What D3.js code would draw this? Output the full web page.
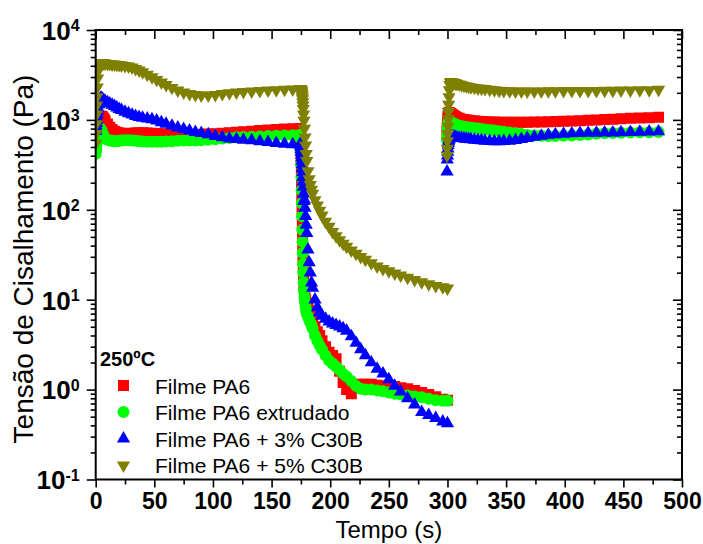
<!DOCTYPE html>
<html>
<head>
<meta charset="utf-8">
<script src="https://cdn.jsdelivr.net/npm/d3@7"></script>
<style>
  html, body { margin: 0; padding: 0; background: #fff; }
  text { font-family: "Liberation Sans", Arial, sans-serif; }
</style>
</head>
<body>
<svg id="chart" width="703" height="544"></svg>
<script>
// ---------------- data ----------------
// time stamps (s) of each test stage
const tSeg1 = [0,0.2,0.4,0.6,0.8,1, 1.3,1.6,2,2.5,3, 4,5,6,7,8, 10,12,14,16,18,20,22, 25,28,31,34,37,40, 44,48,52,56,60, 65,70,75,80,85,90, 96,102,108,114,120,126, 133,140,147,154,161,168,174];
const tSeg2 = [174.6,174.8,175,175.2,175.4,175.6,175.8, 176,176.2,176.4,176.6,176.8, 177,177.3,177.6, 178,178.5,179,179.5, 180,181,182,183,184,185, 187,189,191,193, 196,199,202,205,208,211,214, 218,222,226,230, 235,240,245,250,255,260, 266,272,278,284,290,296, 300];
const tSeg3 = [299.6,299.8,300,300.2,300.4,300.6,300.8, 301,301.3,301.6, 302,302.5,303, 304,305,306,307,308, 310,312,314,316,318,320, 323,326,329,332, 336,340,344,348, 353,358,363,368, 374,380,386,392, 399,406,413,420, 427,434,441,448, 456,464,472,480];

// Filme PA6 (Pa)
const pa6Seg1 = [500,560,630,700,780,850, 920,980,1030,1070,1090, 1100,1100,1080,1030,980, 900,830,780,750,730,715,710, 705,705,710,715,720,720, 715,710,705,700,695, 690,690,690,690,690,690, 695,700,710,720,730,740, 750,760,770,780,790,795,800];
const pa6Seg2 = [780,650,500,380,280,200,140, 100,70,50,37,28, 22,17,14, 12,10.5,9.8,9.2, 8.8,8.2,7.5,6.8,6.2,5.8, 5.0,4.4,4.0,3.5, 3.0,2.6,2.4,2.2,1.6,1.2,1.0, 0.9,1.05,1.15,1.15, 1.15,1.12,1.1,1.1,1.08,1.05, 1.02,0.98,0.93,0.88,0.83,0.78, 0.76];
const pa6Seg3 = [750,820,900,980,1050,1100,1150, 1180,1200,1200, 1190,1180,1170, 1150,1120,1100,1080,1060, 1040,1020,1010,1000,990,985, 975,965,960,955, 950,945,940,940, 940,940,940,940, 945,950,955,960, 965,970,980,990, 1000,1010,1020,1030, 1040,1050,1060,1070];

// Filme PA6 extrudado (Pa)
const extSeg1 = [420,450,480,520,560,600, 650,700,740,770,790, 800,760,700,650,620, 600,590,585,580,580,585,590, 595,595,590,585,580,575, 570,570,570,570,575, 580,585,590,590,590,595, 600,610,620,630,640,645, 650,655,660,665,670,675,680];
const extSeg2 = [680,560,430,320,230,165,118, 85,60,44,33,25, 20,15.5,12.5, 10.5,9.2,8.3,7.6, 7.0,6.5,6.0,5.6,5.2,4.8, 4.0,3.5,3.1,2.8, 2.4,2.1,1.95,1.8,1.65,1.5,1.4, 1.25,1.1,1.02,1.0, 1.0,0.98,0.96,0.93,0.9,0.88, 0.86,0.84,0.82,0.79,0.76,0.75, 0.75];
const extSeg3 = [600,660,720,780,840,890,930, 950,960,960, 950,945,940, 930,910,900,890,880, 860,850,840,830,825,820, 810,800,790,780, 770,760,750,740, 725,710,695,680, 670,665,660,660, 665,670,680,690, 700,710,715,720, 725,730,730,735];

// Filme PA6 + 3% C30B (Pa)
const c3Seg1 = [750,800,860,920,990,1060, 1150,1250,1350,1480,1600, 1750,1750,1700,1650,1620, 1570,1520,1470,1420,1370,1320,1280, 1230,1180,1140,1100,1070,1050, 1030,1010,980,940,900, 860,820,790,760,730,710, 690,660,640,620,610,600, 590,575,565,550,540,535,530];
const c3Seg2 = [530,500,470,440,410,380,350, 320,290,260,230,205, 180,150,125, 130,105,85,68, 55,36,26,20,15.5,13.5, 10,8.2,7.2,6.6, 6.1,5.7,5.4,5.2,5.0,4.8,4.5, 3.9,3.3,2.8,2.4, 2.0,1.7,1.5,1.3,1.1,0.95, 0.8,0.68,0.56,0.52,0.48,0.44, 0.42];
const c3Seg3 = [265,360,400,440,480,520,550, 575,600,620, 635,645,650, 650,650,645,640,635, 630,625,620,615,610,605, 600,595,590,585, 580,578,578,580, 585,595,610,625, 645,665,680,690, 700,705,710,715, 718,720,722,725, 730,735,738,742];

// Filme PA6 + 5% C30B (Pa)
const c5Seg1 = [550,700,900,1150,1450,1800, 2300,2900,3500,3950,4200, 4300,4300,4300,4250,4250, 4200,4200,4150,4150,4100,4100,4050, 4000,3950,3850,3700,3550,3400, 3200,3000,2800,2620,2450, 2280,2130,2030,1950,1900,1880, 1880,1900,1950,1990,2020,2050, 2080,2100,2130,2150,2170,2190,2200];
const c5Seg2 = [2200,2200,2180,2150,2100,2050,1980, 1900,1800,1700,1580,1450, 1330,1150,980, 800,640,520,420, 350,270,220,190,168,152, 128,112,98,87, 74,65,57,51,46,42,39, 35.5,32.5,30,28, 25.5,23.5,22,20.8,19.7,18.7, 17.6,16.6,15.7,14.9,14.3,13.8, 13.4];
const c5Seg3 = [400,480,580,700,850,1020,1230, 1480,1800,2150, 2450,2600,2650, 2620,2600,2580,2550,2520, 2480,2440,2400,2370,2340,2310, 2280,2250,2230,2210, 2170,2140,2120,2100, 2090,2080,2080,2080, 2080,2080,2090,2090, 2100,2100,2110,2110, 2110,2120,2120,2130, 2130,2140,2150,2170];

const seriesNames = ["Filme PA6", "Filme PA6 extrudado", "Filme PA6 + 3% C30B", "Filme PA6 + 5% C30B"];
const seriesColors = ["#ff0000", "#00ff00", "#0000ff", "#808000"];
const xTicks = [0,50,100,150,200,250,300,350,400,450,500];
const xMinorTicks = [25,75,125,175,225,275,325,375,425,475];
const yTickExps = [-1,0,1,2,3,4];
const tempLabel = "250ºC";
const xTitle = "Tempo (s)";
const yTitle = "Tensão de Cisalhamento (Pa)";

// ---------------- build ----------------
const FONT = "'Liberation Sans', Arial, sans-serif";
const times = tSeg1.concat(tSeg2, tSeg3);
const seriesValues = [
  pa6Seg1.concat(pa6Seg2, pa6Seg3),
  extSeg1.concat(extSeg2, extSeg3),
  c3Seg1.concat(c3Seg2, c3Seg3),
  c5Seg1.concat(c5Seg2, c5Seg3)
];
const series = seriesNames.map((name, i) => ({
  name, color: seriesColors[i], idx: i,
  points: times.map((t, j) => ({ t, v: seriesValues[i][j] })).filter(d => d.v != null)
}));

const svg = d3.select("#chart");
const L = 95.7, R = 682, T = 30, B = 479.5;
const x = d3.scaleLinear().domain([0, 500]).range([L, R]);
const y = d3.scaleLog().domain([0.1, 10000]).range([B, T]);

const symbolGen = [
  d3.symbol().type(d3.symbolSquare).size(121),
  d3.symbol().type(d3.symbolCircle).size(113),
  d3.symbol().type(d3.symbolTriangle).size(76),
  d3.symbol().type(d3.symbolTriangle).size(76)
];
const rot = [0, 0, 0, 180];

svg.append("clipPath").attr("id", "plotclip")
  .append("rect").attr("x", L).attr("y", T).attr("width", R - L).attr("height", B - T);

const plot = svg.append("g").attr("clip-path", "url(#plotclip)");
series.forEach(s => {
  plot.append("g").selectAll("path").data(s.points).join("path")
    .attr("d", symbolGen[s.idx]())
    .attr("fill", s.color)
    .attr("transform", d => `translate(${x(d.t)},${y(d.v)}) rotate(${rot[s.idx]})`);
});

// axes
const yMajor = yTickExps.map(e => Math.pow(10, e));
const yMinor = [];
for (let e = -1; e < 4; e++) for (let k = 2; k <= 9; k++) yMinor.push(k * Math.pow(10, e));

function styleAxis(g) {
  g.select(".domain").remove();
  g.selectAll(".tick line").attr("stroke", "#000").attr("stroke-width", 1.6);
}

// bottom
svg.append("g").attr("transform", `translate(0,${B})`)
  .call(d3.axisBottom(x).tickValues(xTicks).tickSize(8).tickPadding(5).tickFormat(d3.format("d")))
  .call(styleAxis)
  .call(g => g.selectAll("text").attr("font-size", 23).attr("font-weight", "bold").attr("fill", "#000").attr("font-family", FONT));
svg.append("g").attr("transform", `translate(0,${B})`)
  .call(d3.axisBottom(x).tickValues(xMinorTicks).tickSize(5).tickFormat(""))
  .call(styleAxis);
// top
svg.append("g").attr("transform", `translate(0,${T})`)
  .call(d3.axisTop(x).tickValues(xTicks).tickSize(-9).tickFormat(""))
  .call(styleAxis);
svg.append("g").attr("transform", `translate(0,${T})`)
  .call(d3.axisTop(x).tickValues(xMinorTicks).tickSize(-5).tickFormat(""))
  .call(styleAxis);
// left
const leftAxis = svg.append("g").attr("transform", `translate(${L},0)`)
  .call(d3.axisLeft(y).tickValues(yMajor).tickSize(9).tickFormat(""))
  .call(styleAxis);
svg.append("g").attr("transform", `translate(${L},0)`)
  .call(d3.axisLeft(y).tickValues(yMinor).tickSize(5).tickFormat(""))
  .call(styleAxis);
leftAxis.selectAll(".tick").each(function(d) {
  const e = Math.round(Math.log10(d));
  const t = d3.select(this).append("text")
    .attr("x", -16).attr("dy", "0.36em")
    .attr("text-anchor", "end").attr("fill", "#000")
    .attr("font-family", FONT)
    .attr("font-weight", "bold").attr("font-size", 26);
  t.append("tspan").text("10");
  t.append("tspan").attr("dy", "-0.55em").attr("font-size", 16).text(String(e));
});
// right
svg.append("g").attr("transform", `translate(${R},0)`)
  .call(d3.axisRight(y).tickValues(yMajor).tickSize(-9).tickFormat(""))
  .call(styleAxis);
svg.append("g").attr("transform", `translate(${R},0)`)
  .call(d3.axisRight(y).tickValues(yMinor).tickSize(-5).tickFormat(""))
  .call(styleAxis);

// frame
svg.append("rect").attr("x", L).attr("y", T).attr("width", R - L).attr("height", B - T)
  .attr("fill", "none").attr("stroke", "#000").attr("stroke-width", 2);

// titles
svg.append("text").attr("x", (L + R) / 2).attr("y", 538).attr("text-anchor", "middle")
  .attr("font-family", FONT).attr("font-size", 24).attr("fill", "#000").text(xTitle);
svg.append("text").attr("transform", `translate(33,259) rotate(-90)`)
  .attr("text-anchor", "middle").attr("font-family", FONT).attr("font-size", 28).attr("fill", "#000").text(yTitle);

// legend
const lg = svg.append("g");
lg.append("text").attr("x", 100).attr("y", 366).attr("font-family", FONT).attr("font-size", 20).attr("font-weight", "bold")
  .attr("fill", "#000").text(tempLabel);
series.forEach((s, i) => {
  const cy = 385.5 + i * 26.6;
  lg.append("path").attr("d", symbolGen[i]())
    .attr("fill", s.color)
    .attr("transform", `translate(123.5,${cy}) rotate(${rot[i]})`);
  lg.append("text").attr("x", 155).attr("y", cy + 8).attr("font-family", FONT).attr("font-size", 21).attr("fill", "#000").text(s.name);
});
</script>
</body>
</html>
